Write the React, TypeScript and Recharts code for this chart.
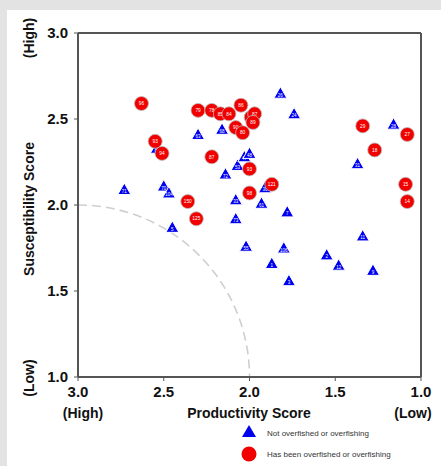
import React from 'react';
import { ScatterChart, Scatter, XAxis, YAxis, ReferenceArea, Label } from 'recharts';

// Not overfished or overfishing (blue triangles)
const notOverfishedLabels = ['71', '70', '104', '5', '63', '68', '72', '53', '47', '48', '33', '73', '30', '61', '7', '55', '106', '1', '3', '26', '24', '2', '12', '11', '9', '31', '28', '82'];
const notOverfishedProductivity = [2.73, 2.5, 2.47, 2.45, 2.3, 2.16, 2.14, 2.07, 2.03, 2.0, 2.08, 2.08, 1.91, 1.93, 1.78, 2.02, 1.8, 1.87, 1.77, 1.82, 1.74, 1.55, 1.48, 1.34, 1.28, 1.37, 1.16, 2.54];
const notOverfishedSusceptibility = [2.09, 2.11, 2.07, 1.87, 2.41, 2.44, 2.18, 2.23, 2.28, 2.3, 2.03, 1.92, 2.1, 2.01, 1.96, 1.76, 1.75, 1.66, 1.56, 2.65, 2.53, 1.71, 1.65, 1.82, 1.62, 2.24, 2.47, 2.33];

// Has been overfished or overfishing (red circles)
const overfishedLabels = ['96', '79', '78', '85', '84', '86', '81', '87', '89', '90', '80', '93', '94', '87', '93', '121', '98', '150', '125', '29', '18', '27', '15', '14'];
const overfishedProductivity = [2.63, 2.3, 2.22, 2.17, 2.12, 2.05, 1.99, 1.97, 1.98, 2.08, 2.04, 2.55, 2.51, 2.22, 2.0, 1.87, 2.0, 2.36, 2.31, 1.34, 1.27, 1.08, 1.09, 1.08];
const overfishedSusceptibility = [2.59, 2.55, 2.55, 2.53, 2.53, 2.58, 2.51, 2.53, 2.48, 2.45, 2.42, 2.37, 2.3, 2.28, 2.21, 2.12, 2.07, 2.02, 1.92, 2.46, 2.32, 2.41, 2.12, 2.02];

const axisTicks = [1.0, 1.5, 2.0, 2.5, 3.0];

// dashed reference quarter circle: centre at (3.0, 1.0), radius 1.0
const arcCentre = { x: 3.0, y: 1.0 };
const arcRadius = 1.0;

const notOverfished = notOverfishedLabels.map((label, i) => ({
  label,
  x: notOverfishedProductivity[i],
  y: notOverfishedSusceptibility[i],
}));
const overfished = overfishedLabels.map((label, i) => ({
  label,
  x: overfishedProductivity[i],
  y: overfishedSusceptibility[i],
}));

const FONT = '"Liberation Sans", Arial, sans-serif';
const BLUE = '#0000f0';
const RED = '#f20000';

const Triangle = (props: any) => {
  const { cx, cy, payload } = props;
  return (
    <g>
      <polygon
        points={`${cx},${cy - 6.5} ${cx - 6.5},${cy + 5} ${cx + 6.5},${cy + 5}`}
        fill={BLUE}
        stroke="#ffffff"
        strokeWidth={1}
      />
      <text x={cx} y={cy + 3.5} textAnchor="middle" fontSize={4.5} fill="#fff" fontFamily={FONT}>
        {payload.label}
      </text>
    </g>
  );
};

const Dot = (props: any) => {
  const { cx, cy, payload } = props;
  return (
    <g>
      <circle cx={cx} cy={cy} r={7} fill={RED} stroke="#bbbbbb" strokeWidth={0.8} />
      <text x={cx} y={cy + 1.7} textAnchor="middle" fontSize={4.8} fill="#fff" fontFamily={FONT}>
        {payload.label}
      </text>
    </g>
  );
};

const Arc = (props: any) => {
  const { x, y, width, height } = props;
  // rectangle spans from the centre to the radius; arc runs top-left -> bottom-right
  const cx = x;
  const cy = y + height;
  return (
    <path
      d={`M ${cx} ${cy - height} A ${width} ${height} 0 0 1 ${cx + width} ${cy}`}
      fill="none"
      stroke="#cfcfcf"
      strokeWidth={1.6}
      strokeDasharray="9 5"
    />
  );
};

const fmt = (v: number) => v.toFixed(1);
const tickStyle = { fontSize: 15, fontWeight: 700, fill: '#111', fontFamily: FONT };

export default function App() {
  return (
    <div style={{ position: 'absolute', left: 0, top: 0, width: 441, height: 466, background: '#e3e3e3', overflow: 'hidden' }}>
      <div style={{ position: 'absolute', left: 7, top: 10, width: 434, height: 456, background: '#ffffff' }} />
      <div style={{ position: 'absolute', left: 0, top: 0 }}>
        <ScatterChart width={441} height={466} margin={{ top: 3, right: 0, bottom: 0, left: 0 }}>
          <XAxis
            type="number"
            dataKey="x"
            domain={[1, 3]}
            reversed
            ticks={axisTicks}
            tickFormatter={fmt}
            height={89}
            tickSize={4}
            tickMargin={5}
            axisLine={{ stroke: '#555', strokeWidth: 2 }}
            tickLine={{ stroke: '#555' }}
            tick={tickStyle}
            allowDataOverflow
          >
            <Label
              content={(p: any) => (
                <g fontFamily={FONT} fontWeight={700} fontSize={14} fill="#111" textAnchor="middle">
                  <text x={p.viewBox.x + 5} y={p.viewBox.y + 41}>(High)</text>
                  <text x={p.viewBox.x + 171} y={p.viewBox.y + 41}>Productivity Score</text>
                  <text x={p.viewBox.x + 335} y={p.viewBox.y + 41}>(Low)</text>
                </g>
              )}
            />
          </XAxis>
          <XAxis
            xAxisId="top"
            type="number"
            dataKey="x"
            orientation="top"
            domain={[1, 3]}
            reversed
            ticks={axisTicks}
            height={30}
            tickSize={4}
            tick={false}
            axisLine={{ stroke: '#555', strokeWidth: 2 }}
            tickLine={{ stroke: '#555' }}
          />
          <YAxis
            type="number"
            dataKey="y"
            domain={[1, 3]}
            ticks={axisTicks}
            tickFormatter={fmt}
            width={78}
            tickSize={4}
            tickMargin={6}
            axisLine={{ stroke: '#555', strokeWidth: 2 }}
            tickLine={{ stroke: '#555' }}
            tick={tickStyle}
            allowDataOverflow
          >
            <Label
              content={(p: any) => {
                const lx = 34;
                return (
                  <g fontFamily={FONT} fontWeight={700} fontSize={14} fill="#111" textAnchor="middle">
                    <text x={lx} y={38} transform={`rotate(-90 ${lx} 38)`}>(High)</text>
                    <text x={lx} y={209} transform={`rotate(-90 ${lx} 209)`}>Susceptibility Score</text>
                    <text x={lx} y={378} transform={`rotate(-90 ${lx} 378)`}>(Low)</text>
                  </g>
                );
              }}
            />
          </YAxis>
          <YAxis
            yAxisId="right"
            type="number"
            dataKey="y"
            orientation="right"
            domain={[1, 3]}
            ticks={axisTicks}
            width={20}
            tickSize={4}
            tick={false}
            axisLine={{ stroke: '#555', strokeWidth: 2 }}
            tickLine={{ stroke: '#555' }}
          />
          <ReferenceArea
            x1={arcCentre.x}
            x2={arcCentre.x - arcRadius}
            y1={arcCentre.y}
            y2={arcCentre.y + arcRadius}
            shape={<Arc />}
            ifOverflow="visible"
          />
          <Scatter
            name="Not overfished or overfishing"
            data={notOverfished}
            fill={BLUE}
            shape={<Triangle />}
            isAnimationActive={false}
          />
          <Scatter
            name="Has been overfished or overfishing"
            data={overfished}
            fill={RED}
            shape={<Dot />}
            isAnimationActive={false}
          />
        </ScatterChart>
      </div>
      <svg style={{ position: 'absolute', left: 235, top: 422 }} width={206} height={44}>
        <polygon points="14,3 7,15 21,15" fill={BLUE} />
        <text x={32} y={14} fontSize={8} fill="#333" fontFamily={FONT}>
          Not overfished or overfishing
        </text>
        <circle cx={14} cy={32} r={7.5} fill={RED} />
        <text x={32} y={35} fontSize={8} fill="#333" fontFamily={FONT}>
          Has been overfished or overfishing
        </text>
      </svg>
    </div>
  );
}
